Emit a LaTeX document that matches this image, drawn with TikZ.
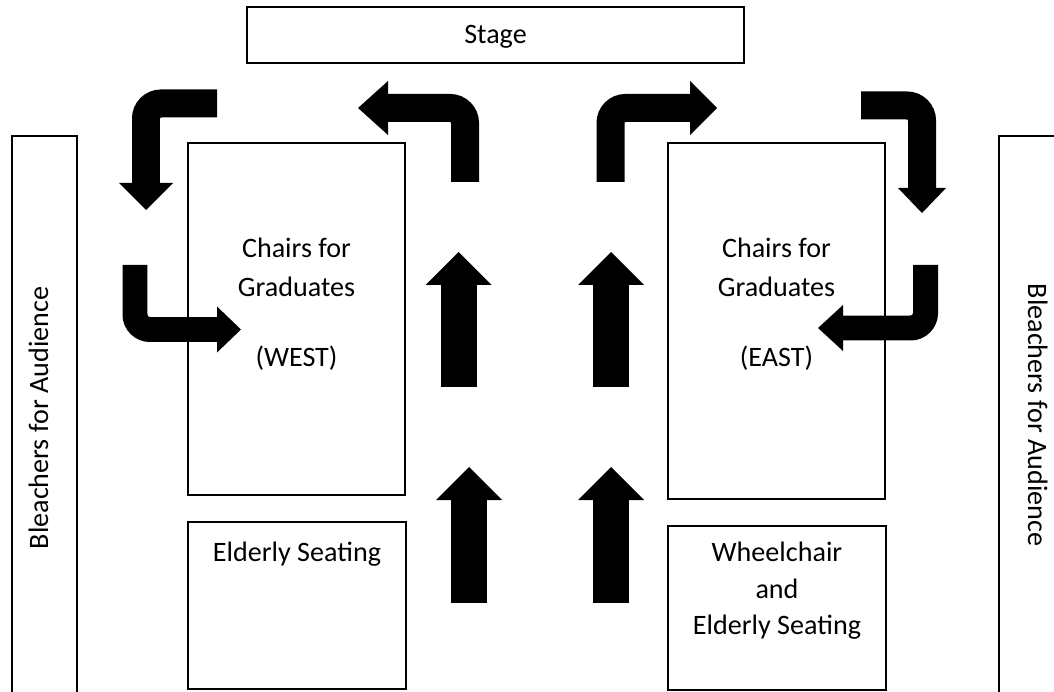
\documentclass[tikz,border=0pt]{standalone}
\usepackage{fontspec}
\setmainfont{Carlito}
\usetikzlibrary{fit}

\begin{document}
\begin{tikzpicture}[
  x=0.02cm,y=-0.02cm,
  zone/.style={draw,line width=0.8pt,inner sep=0pt},
  caption/.style={font=\fontsize{16}{22.2}\selectfont,align=center,inner sep=0pt},
  walk/.style={line width=0.56cm,rounded corners=0.3cm},
  walk thin/.style={line width=0.5cm,rounded corners=0.3cm},
  walk wide/.style={line width=0.72cm},
  pics/tiphead/.style args={#1/#2}{code={\fill (0,0) -- (-#2,#1/2) -- (-#2,-#1/2) -- cycle;}}
  ]
  \useasboundingbox (0,0) rectangle (1054,692);
  \clip (0,0) rectangle (1054,692);
  % areas of the floor
  \node[zone,fit={(247,7)(744,63)}] (stage) {};
  \node[zone,fit={(12,136)(77,720)}] (bleachW) {};
  \node[zone,fit={(999,136)(1066,720)}] (bleachE) {};
  \node[zone,fit={(188,143)(405,495)}] (west) {};
  \node[zone,fit={(668,143)(885,499)}] (east) {};
  \node[zone,fit={(188,522)(406,689)}] (elderly) {};
  \node[zone,fit={(668,526)(886,690)}] (wheel) {};
  % texts
  \node[caption,anchor=base] (stagetxt) at (495.5,44) {Stage};
  \node[caption,anchor=base,rotate=90] (bleachWtxt) at (48,418) {Bleachers for Audience};
  \node[caption,anchor=base,rotate=-90] (bleachEtxt) at (1028,415) {Bleachers for Audience};
  \node[caption,anchor=north] (westtxt) at (296.5,238) {Chairs for\\Graduates\\[17.6pt](WEST)};
  \node[caption,anchor=north] (easttxt) at (776.5,238) {Chairs for\\Graduates\\[17.6pt](EAST)};
  \node[caption,anchor=base] (elderlytxt) at (297,561) {Elderly Seating};
  \node[caption,anchor=north,font=\fontsize{16}{20.8}\selectfont] (wheeltxt) at (777,542) {Wheelchair\\and\\Elderly Seating};
  % bent arrows round the chairs
  \draw[walk] (217,103.5) -- (146,103.5) -- (146,184);
  \pic[rotate=-90] at (146,210) {tiphead=54/27};
  \draw[walk thin] (135,265) -- (135,329.5) -- (218,329.5);
  \pic at (241,329.5) {tiphead=46/24};
  \draw[walk] (465,182) -- (465,108) -- (387,108);
  \pic[rotate=180] at (358,108) {tiphead=54/30};
  \draw[walk] (610.5,182) -- (610.5,108) -- (691,108);
  \pic at (717,108) {tiphead=54/27};
  \draw[walk] (861,105.5) -- (922,105.5) -- (922,189);
  \pic[rotate=-90] at (922,213) {tiphead=48/25};
  \draw[walk thin] (925.5,265) -- (925.5,328) -- (842,328);
  \pic[rotate=180] at (818,328) {tiphead=46/25};
  % straight arrows up the aisles
  \foreach \x/\ytail/\ytip in {458.5/387/252, 611/387/252, 469/603/467, 611/603/467} {
    \draw[walk wide] (\x,\ytail) -- (\x,\ytip+32);
    \pic[rotate=90] at (\x,\ytip) {tiphead=66/33};
  }
\end{tikzpicture}
\end{document}
